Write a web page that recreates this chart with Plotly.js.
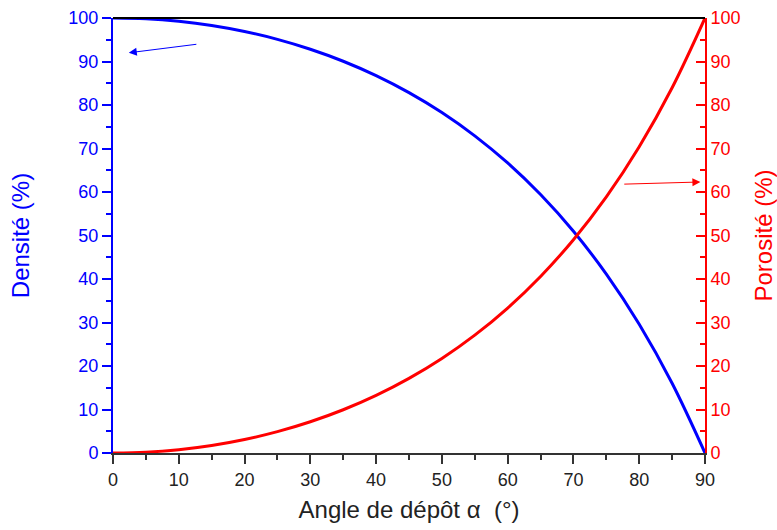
<!DOCTYPE html>
<html><head><meta charset="utf-8">
<script src="https://cdn.plot.ly/plotly-3.0.1.min.js"></script>
<style>body{margin:0;background:#fff}</style>
</head><body>
<div id="chart" style="width:777px;height:530px"></div>
<script>
const angle = [0,5,10,15,20,25,30,35,40,45,50,55,60,65,70,75,80,85,90];
const densite = [100,99.81,99.23,98.27,96.89,95.09,92.82,90.06,86.75,82.84,78.26,72.90,66.67,59.41,50.97,41.12,29.59,16.03,0];
const porosite = [0,0.19,0.77,1.73,3.11,4.91,7.18,9.94,13.25,17.16,21.74,27.10,33.33,40.59,49.03,58.88,70.41,83.97,100];
const xTitle = "Angle de dépôt α  (°)";
const y1Title = "Densité (%)";
const y2Title = "Porosité (%)";

const font = "Liberation Sans, Arial, sans-serif";
const data = [
  {x: angle, y: densite, type:'scatter', mode:'lines', line:{color:'#0000ff', width:3, shape:'spline'}, yaxis:'y', cliponaxis:false},
  {x: angle, y: porosite, type:'scatter', mode:'lines', line:{color:'#ff0000', width:3, shape:'spline'}, yaxis:'y2', cliponaxis:false}
];
const layout = {
  width:777, height:530,
  margin:{l:113, r:72, t:18, b:77},
  paper_bgcolor:'#fff', plot_bgcolor:'#fff',
  showlegend:false,
  font:{family:font, size:18},
  xaxis:{range:[0,90], dtick:10, tick0:0, showgrid:false, zeroline:false,
    showline:true, linecolor:'#333', linewidth:2,
    ticks:'outside', ticklen:9, tickwidth:2, tickcolor:'#333',
    minor:{dtick:5, ticks:'outside', ticklen:5, tickwidth:2, tickcolor:'#333'},
    tickfont:{size:18, color:'#222'},
    title:{text:xTitle, font:{size:24, color:'#222'}, standoff:13}},
  yaxis:{range:[0,100], dtick:10, showgrid:false, zeroline:false,
    showline:true, linecolor:'#0000ff', linewidth:2,
    ticks:'outside', ticklen:9, tickwidth:2, tickcolor:'#0000ff',
    minor:{dtick:5, ticks:'outside', ticklen:5, tickwidth:2, tickcolor:'#0000ff'},
    tickfont:{size:18, color:'#0000ff'},
    title:{text:y1Title, font:{size:24, color:'#0000ff'}, standoff:32}},
  yaxis2:{range:[0,100], dtick:10, overlaying:'y', side:'right', showgrid:false, zeroline:false,
    showline:true, linecolor:'#ff0000', linewidth:2,
    ticks:'inside', ticklen:9, tickwidth:2, tickcolor:'#ff0000',
    minor:{dtick:5, ticks:'inside', ticklen:5, tickwidth:2, tickcolor:'#ff0000'},
    tickfont:{size:18, color:'#ff0000'},
    title:{text:y2Title, font:{size:24, color:'#ff0000'}, standoff:16}},
  shapes:[{type:'line', xref:'paper', yref:'paper', x0:0, x1:1, y0:1, y1:1, line:{color:'#000', width:2}}],
  annotations:[
    {xref:'x', yref:'y', axref:'x', ayref:'y', x:2.4, y:92.0, ax:12.9, ay:94.0, text:'', showarrow:true,
     arrowhead:2, arrowsize:1.6, arrowwidth:1, arrowcolor:'#0000ff'},
    {xref:'x', yref:'y', axref:'x', ayref:'y', x:89.3, y:62.3, ax:77.5, ay:61.8, text:'', showarrow:true,
     arrowhead:2, arrowsize:1.6, arrowwidth:1, arrowcolor:'#ff0000'}
  ]
};
Plotly.newPlot('chart', data, layout, {displayModeBar:false, staticPlot:true});
</script>
</body></html>
